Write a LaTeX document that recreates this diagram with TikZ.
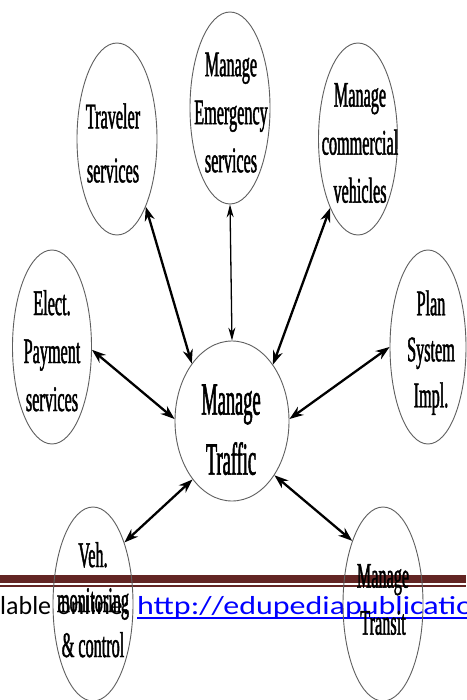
\documentclass[tikz,border=0pt]{standalone}
\usepackage{fontspec}
\setmainfont{Liberation Serif}
\newfontfamily\condfont[FakeStretch=0.45,FakeBold=1.2]{Liberation Serif}
\newfontfamily\condbig[FakeStretch=0.40,FakeBold=1.2]{Liberation Serif}
\newfontfamily\footfont{Carlito}
\newfontfamily\urlfont[FakeStretch=1.23]{Carlito}
\usetikzlibrary{shapes.geometric,arrows.meta}
\definecolor{barred}{RGB}{99,37,35}
\definecolor{linkblue}{RGB}{0,0,255}
\definecolor{ovalgray}{RGB}{95,95,95}
\begin{document}
\begin{tikzpicture}[x=1pt,y=-1pt,
  oval/.style={ellipse,draw=ovalgray,line width=0.9pt,inner sep=0pt},
  lbl/.style={align=center,inner sep=0pt,font=\condfont\fontsize{36}{48}\selectfont},
  biglbl/.style={align=center,inner sep=0pt,font=\condbig\fontsize{46}{60}\selectfont},
  dblarrow/.style={line width=2.3pt,{Stealth[length=14pt,width=10pt]}-{Stealth[length=14pt,width=10pt]}},
  thinarrow/.style={line width=1.3pt,{Stealth[length=13pt,width=7pt]}-{Stealth[length=13pt,width=7pt]}},
  foot/.style={anchor=base west,inner sep=0pt}
  ]
\useasboundingbox (0,0) rectangle (466,700);
\fill[white] (0,0) rectangle (466,700);

% footer band
\fill[barred] (0,575) rectangle (466,583);
\fill[barred] (0,585.3) rectangle (466,587.3);
\node[foot,font=\footfont\fontsize{26}{30}\selectfont] (avail) at (0,614) {lable online:};
\node[foot,font=\urlfont\fontsize{26}{30}\selectfont,text=linkblue] (url) at (137,614) {http://edupediapublication};
\draw[linkblue,line width=1.5pt] ([yshift=-4pt]url.base west) -- ([yshift=-4pt]url.base east);

% ellipses
\node[oval,minimum width=80pt,minimum height=192pt] (trav) at (117,139) {};
\node[oval,minimum width=80pt,minimum height=192pt] (emer) at (230,108) {};
\node[oval,minimum width=79pt,minimum height=192pt] (comm) at (358,139) {};
\node[oval,minimum width=79pt,minimum height=194pt] (elec) at (52,347) {};
\node[oval,minimum width=76pt,minimum height=194pt] (plan) at (428,347) {};
\node[oval,minimum width=114pt,minimum height=160pt] (traf) at (232,421) {};
\node[oval,minimum width=80pt,minimum height=194pt] (veh) at (93,604) {};
\node[oval,minimum width=80pt,minimum height=194pt] (trans) at (383,604) {};

% labels
\node[lbl] (travt) at (113,143) {Traveler\\[6pt]services};
\node[lbl] (emert) at (231,112.6) {Manage\\Emergency\\services};
\node[lbl] (commt) at (360,143) {Manage\\commercial\\vehicles};
\node[lbl] (elect) at (52,350.7) {Elect.\\Payment\\services};
\node[lbl] (plant) at (431,352.6) {Plan\\[-2pt]System\\[-2pt]Impl.};
\node[biglbl] (traft) at (231,429.8) {Manage\\Traffic};
\node[lbl] (veht) at (93,599.7) {Veh.\\[-3pt]monitoring\\[-3pt]\& control};
\node[lbl] (transt) at (383,599.5) {Manage\\[-1pt]Transit};

% connectors
\draw[dblarrow] (traf.125) -- (trav.-67);
\draw[thinarrow] (traf.90) -- (emer.-90);
\draw[dblarrow] (traf.54) -- (comm.-112);
\draw[dblarrow] (traf.178) -- (elec.-4);
\draw[dblarrow] (traf.2) -- (plan.180);
\draw[dblarrow] (traf.-124) -- (veh.63);
\draw[dblarrow] (traf.-52) -- (trans.116);
\end{tikzpicture}
\end{document}
